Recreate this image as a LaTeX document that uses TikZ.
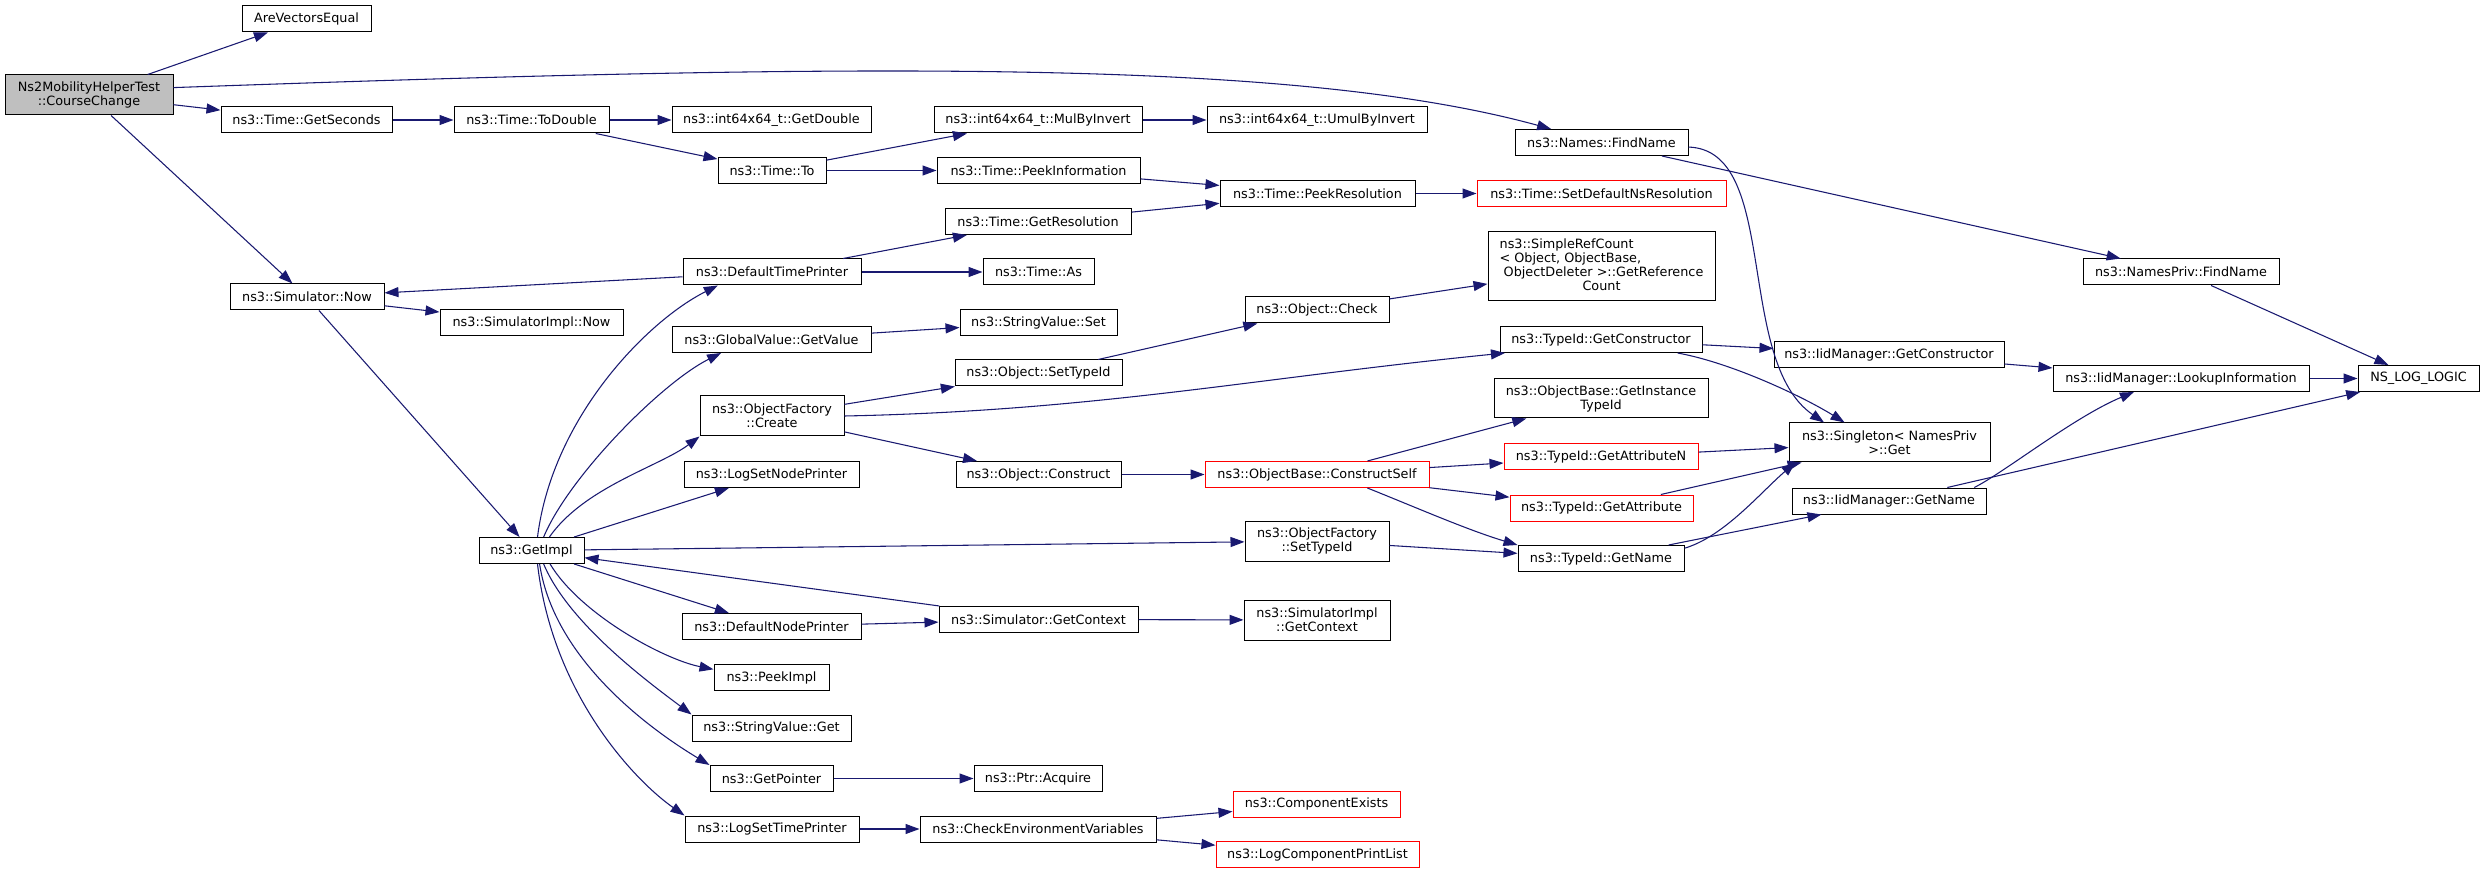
\documentclass[tikz,border=0pt]{standalone}
\usepackage{fontspec}
\setmainfont{DejaVu Sans}
\usetikzlibrary{arrows.meta}
\definecolor{edgeblue}{HTML}{191970}
\definecolor{rootgray}{HTML}{BFBFBF}
\begin{document}
\begin{tikzpicture}[x=0.75pt, y=-0.75pt,
    fn/.style={draw=black, line width=0.75pt, inner sep=1pt, minimum height=19.5pt, align=center, font=\fontsize{9.6}{10.5}\selectfont},
    fnred/.style={fn, draw=red},
    fnroot/.style={fn, fill=rootgray},
    call/.style={draw=edgeblue, line width=0.8pt, -{Triangle[length=10.5pt,width=7.5pt]}}]
        \useasboundingbox (0,0) rectangle (2485,873);
       \node[fnroot, minimum width=126pt, minimum height=30pt] (root) at (89,95) {Ns2MobilityHelperTest\\::CourseChange};
       \node[fn, minimum width=96.75pt] (are) at (306.5,19) {AreVectorsEqual};
       \node[fn, minimum width=128.25pt] (secs) at (306.5,120) {ns3::Time::GetSeconds};
       \node[fn, minimum width=115.5pt] (simnow) at (307,297) {ns3::Simulator::Now};
       \node[fn, minimum width=116.25pt] (todbl) at (531.5,120) {ns3::Time::ToDouble};
       \node[fn, minimum width=137.25pt] (implnow) at (531.5,322.5) {ns3::SimulatorImpl::Now};
       \node[fn, minimum width=78.75pt] (getimpl) at (531.5,550.5) {ns3::GetImpl};
       \node[fn, minimum width=149.25pt] (getdbl) at (771.5,120) {ns3::int64x64\_t::GetDouble};
       \node[fn, minimum width=81pt] (timeto) at (772,170.5) {ns3::Time::To};
       \node[fn, minimum width=133.5pt] (dtp) at (772,272) {ns3::DefaultTimePrinter};
       \node[fn, minimum width=149.25pt] (gvget) at (771.5,339.5) {ns3::GlobalValue::GetValue};
       \node[fn, minimum width=108pt, minimum height=30pt] (ofcreate) at (772,416) {ns3::ObjectFactory\\::Create};
       \node[fn, minimum width=131.25pt] (nodeprn) at (771.5,474.5) {ns3::LogSetNodePrinter};
       \node[fn, minimum width=134.25pt] (dnp) at (771.5,626.5) {ns3::DefaultNodePrinter};
       \node[fn, minimum width=86.25pt] (peekimpl) at (771.5,677.5) {ns3::PeekImpl};
       \node[fn, minimum width=119.25pt] (strget) at (771.5,728) {ns3::StringValue::Get};
       \node[fn, minimum width=92.25pt] (getptr) at (771.5,778.5) {ns3::GetPointer};
       \node[fn, minimum width=130.5pt] (timeprn) at (772,829) {ns3::LogSetTimePrinter};
       \node[fn, minimum width=156pt] (mulinv) at (1038,120) {ns3::int64x64\_t::MulByInvert};
       \node[fn, minimum width=152.25pt] (peekinfo) at (1038.5,170.5) {ns3::Time::PeekInformation};
       \node[fn, minimum width=139.5pt] (getres) at (1038,221.5) {ns3::Time::GetResolution};
       \node[fn, minimum width=83.25pt] (timeas) at (1038.5,272) {ns3::Time::As};
       \node[fn, minimum width=117.75pt] (strset) at (1038.5,322.5) {ns3::StringValue::Set};
       \node[fn, minimum width=125.25pt] (setid) at (1038.5,373) {ns3::Object::SetTypeId};
       \node[fn, minimum width=123.75pt] (construct) at (1038.5,474.5) {ns3::Object::Construct};
       \node[fn, minimum width=149.25pt] (getctx) at (1038.5,619.5) {ns3::Simulator::GetContext};
       \node[fn, minimum width=96pt] (acquire) at (1038,778.5) {ns3::Ptr::Acquire};
       \node[fn, minimum width=177pt] (checkenv) at (1038,829) {ns3::CheckEnvironmentVariables};
       \node[fn, minimum width=165pt] (umulinv) at (1317,120) {ns3::int64x64\_t::UmulByInvert};
       \node[fn, minimum width=146.25pt] (peekres) at (1317.5,193.5) {ns3::Time::PeekResolution};
       \node[fn, minimum width=108pt] (check) at (1317,310) {ns3::Object::Check};
       \node[fnred, minimum width=168pt] (cself) at (1317,474.5) {ns3::ObjectBase::ConstructSelf};
       \node[fn, minimum width=108pt, minimum height=30pt] (ofsetid) at (1317,541) {ns3::ObjectFactory\\::SetTypeId};
       \node[fn, minimum width=109.5pt, minimum height=30pt] (implctx) at (1317,620) {ns3::SimulatorImpl\\::GetContext};
       \node[fnred, minimum width=125.25pt] (compex) at (1316.5,804) {ns3::ComponentExists};
       \node[fnred, minimum width=152.25pt] (printlist) at (1317.5,854.5) {ns3::LogComponentPrintList};
       \node[fn, minimum width=129.75pt] (findname) at (1601.5,142.5) {ns3::Names::FindName};
       \node[fnred, minimum width=186.75pt] (setres) at (1601.5,193.5) {ns3::Time::SetDefaultNsResolution};
       \node[fn, minimum width=170.25pt, minimum height=51.75pt] (refcount) at (1601.5,266.5) {\begin{tabular}{@{}l@{}}ns3::SimpleRefCount\\< Object, ObjectBase,\\\ ObjectDeleter >::GetReference\\\multicolumn{1}{@{}c@{}}{Count}\end{tabular}};
       \node[fn, minimum width=151.5pt] (getctor) at (1601,339.5) {ns3::TypeId::GetConstructor};
       \node[fn, minimum width=160.5pt, minimum height=29.25pt] (instid) at (1601,398.5) {ns3::ObjectBase::GetInstance\\TypeId};
       \node[fnred, minimum width=145.5pt] (getattrn) at (1601,457) {ns3::TypeId::GetAttributeN};
       \node[fnred, minimum width=137.25pt] (getattr) at (1601.5,508) {ns3::TypeId::GetAttribute};
       \node[fn, minimum width=124.5pt] (getname) at (1601,558.5) {ns3::TypeId::GetName};
       \node[fn, minimum width=172.5pt] (iidctor) at (1889,354.5) {ns3::IidManager::GetConstructor};
       \node[fn, minimum width=150.75pt, minimum height=29.25pt] (singleton) at (1889.5,442.5) {ns3::Singleton< NamesPriv\\ >::Get};
       \node[fn, minimum width=145.5pt] (iidname) at (1889,501) {ns3::IidManager::GetName};
       \node[fn, minimum width=147pt] (privfind) at (2181,272) {ns3::NamesPriv::FindName};
       \node[fn, minimum width=192pt] (lookup) at (2181,378.5) {ns3::IidManager::LookupInformation};
       \node[fn, minimum width=90.75pt] (nslog) at (2418.5,378.5) {NS\_LOG\_LOGIC};
        \draw[call] (root) -- (are);
        \draw[call] (root.5) .. controls +(700,-25) and +(-256,-70) .. (findname.165);
        \draw[call] (root) -- (secs);
        \draw[call] (root) -- (simnow);
        \draw[call] (secs) -- (todbl);
        \draw[call] (todbl) -- (getdbl);
        \draw[call] (todbl) -- (timeto);
        \draw[call] (timeto) -- (mulinv);
        \draw[call] (timeto) -- (peekinfo);
        \draw[call] (mulinv) -- (umulinv);
        \draw[call] (peekinfo) -- (peekres);
        \draw[call] (getres) -- (peekres);
        \draw[call] (peekres) -- (setres);
        \draw[call] (dtp) -- (getres);
        \draw[call] (dtp) -- (timeas);
        \draw[call] (dtp) -- (simnow);
        \draw[call] (simnow) -- (implnow);
        \draw[call] (simnow) -- (getimpl);
        \draw[call] (getimpl.66) .. controls +(15,-120) and +(-70,35) .. (dtp.194);
        \draw[call] (getimpl.48) .. controls +(25,-60) and +(-60,30) .. (gvget.195);
        \draw[call] (getimpl.37) .. controls +(35,-50) and +(-40,30) .. (ofcreate.south west);
        \draw[call] (getimpl) -- (nodeprn);
        \draw[call] (getimpl) -- (ofsetid);
        \draw[call] (getimpl) -- (dnp);
        \draw[call] (getctx) -- (getimpl);
        \draw[call] (getimpl.-36) .. controls +(30,50) and +(-50,-10) .. (peekimpl.172);
        \draw[call] (getimpl.-48) .. controls +(25,60) and +(-40,-30) .. (strget.north west);
        \draw[call] (getimpl.-59) .. controls +(15,100) and +(-50,-30) .. (getptr.north west);
        \draw[call] (getimpl.-66) .. controls +(15,130) and +(-50,-35) .. (timeprn.north west);
        \draw[call] (gvget) -- (strset);
        \draw[call] (ofcreate) -- (setid);
        \draw[call] (ofcreate.east) .. controls +(250,-5) and +(-250,25) .. (getctor.188);
        \draw[call] (ofcreate) -- (construct);
        \draw[call] (setid) -- (check);
        \draw[call] (check) -- (refcount);
        \draw[call] (getctor) -- (iidctor);
        \draw[call] (getctor.-10) .. controls +(55,10) and +(-40,-25) .. (singleton.156);
        \draw[call] (findname.-3) .. controls +(92,3) and +(-90,-62) .. (singleton.163);
        \draw[call] (findname) -- (privfind);
        \draw[call] (privfind) -- (nslog);
        \draw[call] (iidctor) -- (lookup);
        \draw[call] (lookup) -- (nslog);
        \draw[call] (iidname.9) .. controls +(30,-15) and +(-60,25) .. (lookup.196);
        \draw[call] (iidname) -- (nslog);
        \draw[call] (construct) -- (cself);
        \draw[call] (cself) -- (instid);
        \draw[call] (cself) -- (getattrn);
        \draw[call] (cself) -- (getattr);
        \draw[call] (cself.-15) .. controls +(50,20) and +(-50,-15) .. (getname.north west);
        \draw[call] (getattrn) -- (singleton);
        \draw[call] (getattr) -- (singleton);
        \draw[call] (getname.7) .. controls +(40,-12) and +(-35,30) .. (singleton.192);
        \draw[call] (getname) -- (iidname);
        \draw[call] (ofsetid) -- (getname);
        \draw[call] (dnp) -- (getctx);
        \draw[call] (getctx) -- (implctx);
        \draw[call] (getptr) -- (acquire);
        \draw[call] (timeprn) -- (checkenv);
        \draw[call] (checkenv) -- (compex);
        \draw[call] (checkenv) -- (printlist);
      \end{tikzpicture}
\end{document}
